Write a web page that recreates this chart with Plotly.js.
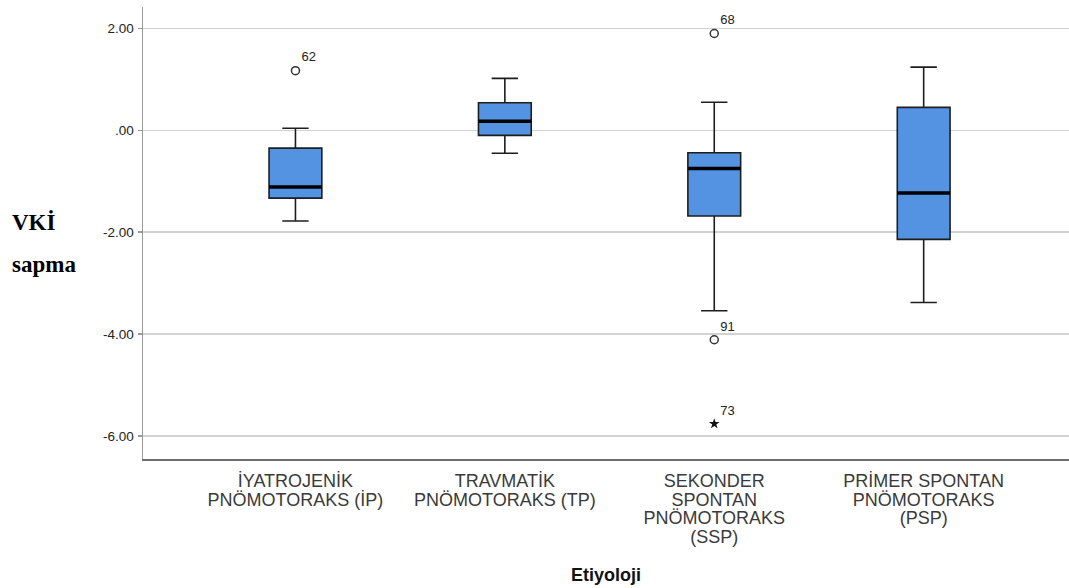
<!DOCTYPE html>
<html>
<head>
<meta charset="utf-8">
<script src="https://cdn.plot.ly/plotly-3.0.1.min.js"></script>
<style>html,body{margin:0;padding:0;background:#fff;}#chart{width:1069px;height:588px;}</style>
</head>
<body>
<div id="chart"></div>
<script>
// ---- data ----
const categories = ["İYATROJENİK<br>PNÖMOTORAKS (İP)", "TRAVMATİK<br>PNÖMOTORAKS (TP)", "SEKONDER<br>SPONTAN<br>PNÖMOTORAKS<br>(SSP)", "PRİMER SPONTAN<br>PNÖMOTORAKS<br>(PSP)"];
const catPos = [0, 1, 2, 3];
const q1Vals = [-1.33, -0.10, -1.68, -2.14];
const medianVals = [-1.11, 0.18, -0.75, -1.23];
const q3Vals = [-0.35, 0.54, -0.44, 0.45];
const lowerWhisker = [-1.78, -0.45, -3.54, -3.38];
const upperWhisker = [0.04, 1.02, 0.55, 1.24];
const outlierCat = [0, 2, 2];
const outlierVals = [1.17, 1.90, -4.11];
const outlierIds = ["62", "68", "91"];
const extremeCat = [2];
const extremeVals = [-5.76];
const extremeIds = ["73"];
const yTickVals = [2, 0, -2, -4, -6];
const yTickText = ["2.00", ".00", "-2.00", "-4.00", "-6.00"];

// ---- styling ----
const BOX_W = 0.252;
const medX = [], medY = [];
catPos.forEach((c, i) => { medX.push(c - BOX_W / 2, c + BOX_W / 2, null); medY.push(medianVals[i], medianVals[i], null); });
const outX = outlierCat.map(i => catPos[i]);
const extX = extremeCat.map(i => catPos[i]);

const traces = [
  {
    type: 'box', x: catPos, q1: q1Vals, median: medianVals, q3: q3Vals,
    lowerfence: lowerWhisker, upperfence: upperWhisker,
    width: BOX_W, whiskerwidth: 0.5, boxpoints: false,
    fillcolor: '#5393e2', line: {color: '#1e1e1e', width: 1.6},
    hoverinfo: 'skip', showlegend: false
  },
  {
    type: 'scatter', mode: 'lines', x: medX, y: medY,
    line: {color: '#000', width: 3.5}, hoverinfo: 'skip', showlegend: false
  },
  {
    type: 'scatter', mode: 'markers+text', x: outX, y: outlierVals, text: outlierIds,
    textposition: 'top right', textfont: {family: 'Liberation Sans, Arial, sans-serif', size: 13, color: '#222'},
    marker: {symbol: 'circle-open', size: 8, color: '#333', line: {width: 1.5}},
    hoverinfo: 'skip', showlegend: false
  },
  {
    type: 'scatter', mode: 'markers+text', x: extX, y: extremeVals, text: extremeIds,
    textposition: 'top right', textfont: {family: 'Liberation Sans, Arial, sans-serif', size: 13, color: '#222'},
    marker: {symbol: 'star', size: 8, color: '#111'},
    hoverinfo: 'skip', showlegend: false
  }
];

const layout = {
  width: 1069, height: 588,
  margin: {l: 143, r: 0, t: 7, b: 129, pad: 0},
  paper_bgcolor: '#fff', plot_bgcolor: '#fff',
  showlegend: false,
  font: {family: 'Liberation Sans, Arial, sans-serif', color: '#222'},
  xaxis: {
    type: 'linear', range: [-0.728, 3.694],
    tickvals: catPos, ticktext: categories,
    showgrid: false, zeroline: false,
    showline: true, linecolor: '#6e6e6e', linewidth: 2,
    ticks: '', ticklabelstandoff: 4,
    tickfont: {family: 'Liberation Sans, Arial, sans-serif', size: 18, color: '#3a3a3a'},
    title: {text: 'Etiyoloji', standoff: 9, font: {family: 'Liberation Sans, Arial, sans-serif', size: 18, color: '#111', weight: 'bold'}},
    automargin: false, fixedrange: true
  },
  yaxis: {
    range: [-6.45, 2.42],
    tickvals: yTickVals, ticktext: yTickText,
    showgrid: true, gridcolor: '#d2d2d2', gridwidth: 1.5,
    zeroline: false,
    showline: true, linecolor: '#9a9a9a', linewidth: 1.5,
    ticks: 'outside', ticklen: 4, tickcolor: '#9a9a9a', tickwidth: 1.5,
    ticklabelstandoff: 1,
    tickfont: {family: 'Liberation Sans, Arial, sans-serif', size: 13.5, color: '#222'},
    automargin: false, fixedrange: true
  },
  annotations: [
    {text: 'VKİ', xref: 'paper', yref: 'paper', x: -0.1436, y: 0.524, xanchor: 'left', yanchor: 'middle',
     showarrow: false, font: {family: 'Liberation Serif, Times New Roman, serif', size: 23, color: '#000', weight: 'bold'}},
    {text: 'sapma', xref: 'paper', yref: 'paper', x: -0.1436, y: 0.431, xanchor: 'left', yanchor: 'middle',
     showarrow: false, font: {family: 'Liberation Serif, Times New Roman, serif', size: 23, color: '#000', weight: 'bold'}}
  ]
};

// tighter line spacing for the multi-line category labels
function tightenTickLines() {
  document.querySelectorAll('#chart .xtick text').forEach(t => {
    t.querySelectorAll('tspan.line').forEach((ts, i) => {
      ts.setAttribute('dy', (i * 1.05) + 'em');
    });
  });
}

const gd = document.getElementById('chart');
Plotly.newPlot(gd, traces, layout, {displayModeBar: false, staticPlot: true}).then(() => {
  tightenTickLines();
  gd.on('plotly_afterplot', tightenTickLines);
});
</script>
</body>
</html>
